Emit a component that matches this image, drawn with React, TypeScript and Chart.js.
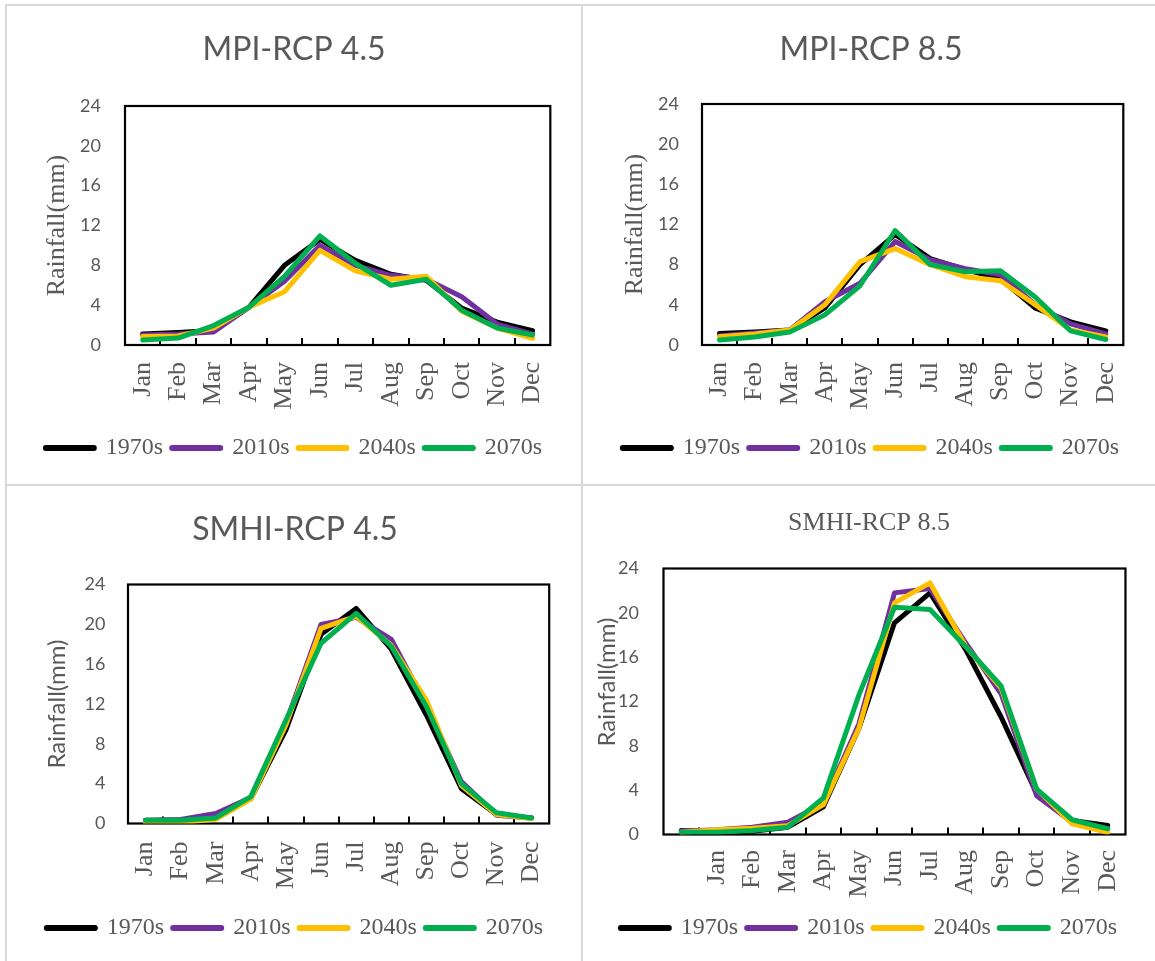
import React, { useEffect, useRef } from 'react';
import { Chart, registerables } from 'chart.js';

Chart.register(...registerables);

// ---------- data ----------
const MONTHS = ['Jan', 'Feb', 'Mar', 'Apr', 'May', 'Jun', 'Jul', 'Aug', 'Sep', 'Oct', 'Nov', 'Dec'];
// the SMHI-RCP 8.5 panel has an extra, unlabeled leading category
const MONTHS_WITH_BLANK = ['', 'Jan', 'Feb', 'Mar', 'Apr', 'May', 'Jun', 'Jul', 'Aug', 'Sep', 'Oct', 'Nov', 'Dec'];
const SERIES_LABELS = ['1970s', '2010s', '2040s', '2070s'];
const SERIES_COLORS = ['#000000', '#7030A0', '#FFC000', '#00B050'];
const Y_MIN = 0;
const Y_MAX = 24;
const Y_STEP = 4;
const Y_TITLE = 'Rainfall(mm)';

const MPI45_1970s = [1.1, 1.25, 1.45, 3.8, 8.0, 10.6, 8.5, 7.1, 6.5, 3.7, 2.3, 1.45];
const MPI45_2010s = [1.0, 1.1, 1.3, 3.8, 6.4, 10.0, 8.0, 7.0, 6.6, 4.85, 2.1, 1.1];
const MPI45_2040s = [0.85, 0.9, 1.7, 3.8, 5.35, 9.5, 7.45, 6.6, 6.9, 3.4, 1.7, 0.67];
const MPI45_2070s = [0.5, 0.7, 1.95, 3.8, 6.9, 10.95, 8.2, 6.0, 6.6, 3.5, 1.7, 1.0];

const MPI85_1970s = [1.15, 1.3, 1.5, 3.7, 8.0, 11.0, 8.6, 7.5, 6.6, 3.66, 2.3, 1.4];
const MPI85_2010s = [0.93, 1.2, 1.5, 4.3, 6.15, 10.3, 8.5, 7.6, 7.0, 4.0, 2.1, 1.1];
const MPI85_2040s = [0.83, 1.1, 1.5, 4.0, 8.3, 9.6, 8.0, 6.8, 6.4, 4.0, 1.5, 0.8];
const MPI85_2070s = [0.5, 0.8, 1.3, 3.0, 5.9, 11.4, 8.0, 7.3, 7.4, 4.75, 1.4, 0.55];

const SMHI45_1970s = [0.33, 0.33, 0.56, 2.5, 9.4, 19.0, 21.6, 17.5, 10.9, 3.5, 0.9, 0.56];
const SMHI45_2010s = [0.3, 0.4, 1.0, 2.6, 10.1, 20.0, 20.7, 18.5, 11.9, 4.2, 0.84, 0.56];
const SMHI45_2040s = [0.1, 0.1, 0.43, 2.45, 9.9, 19.6, 20.8, 17.9, 12.4, 3.8, 0.9, 0.5];
const SMHI45_2070s = [0.33, 0.33, 0.56, 2.7, 10.4, 18.1, 21.1, 17.8, 11.75, 4.0, 1.07, 0.56];

const SMHI85_1970s = [0.36, 0.2, 0.3, 0.66, 2.5, 9.6, 19.1, 21.8, 16.7, 10.6, 3.7, 1.27, 0.82];
const SMHI85_2010s = [0.3, 0.42, 0.66, 1.1, 2.8, 10.0, 21.8, 22.2, 17.3, 12.7, 3.5, 1.1, 0.52];
const SMHI85_2040s = [0.2, 0.42, 0.57, 0.8, 2.7, 9.6, 20.9, 22.7, 17.0, 13.2, 4.1, 0.96, 0.2];
const SMHI85_2070s = [0.21, 0.2, 0.36, 0.66, 3.3, 12.6, 20.5, 20.3, 16.97, 13.4, 4.1, 1.33, 0.52];

// ---------- styling ----------
const GRAY = '#595959';
const SANS = 'Lato';
const SERIF = 'Liberation Serif';

type Panel = {
  title: string;
  titleFont: any;
  titlePad: { top: number; bottom: number };
  labels: string[];
  series: number[][];
  left: number; top: number; width: number; height: number;
  padL: number; padR: number; padB: number;
  yWidth: number; yTickPad: number; yTitleFont: any; yTitlePad: number;
  yTitleCustom?: { x: number; dy: number };
  xHeight: number; xTickPad: number;
};

const PANELS: Panel[] = [
  {
    title: 'MPI-RCP 4.5', titleFont: { family: SANS, size: 32 }, titlePad: { top: 24.8, bottom: 36.8 },
    labels: MONTHS, series: [MPI45_1970s, MPI45_2010s, MPI45_2040s, MPI45_2070s],
    left: 6, top: 6, width: 576, height: 479, padL: 29, padR: 29, padB: 15,
    yWidth: 90, yTickPad: 24, yTitleFont: { family: SERIF, size: 26 }, yTitlePad: 6.4,
    xHeight: 82, xTickPad: 17,
  },
  {
    title: 'MPI-RCP 8.5', titleFont: { family: SANS, size: 32 }, titlePad: { top: 24.8, bottom: 34.8 },
    labels: MONTHS, series: [MPI85_1970s, MPI85_2010s, MPI85_2040s, MPI85_2070s],
    left: 583, top: 6, width: 572, height: 479, padL: 29, padR: 25, padB: 15,
    yWidth: 90, yTickPad: 23, yTitleFont: { family: SERIF, size: 26 }, yTitlePad: 7.4,
    xHeight: 82, xTickPad: 17,
  },
  {
    title: 'SMHI-RCP 4.5', titleFont: { family: SANS, size: 32 }, titlePad: { top: 24.8, bottom: 35.3 },
    labels: MONTHS, series: [SMHI45_1970s, SMHI45_2010s, SMHI45_2040s, SMHI45_2070s],
    left: 6, top: 486, width: 576, height: 475, padL: 29.5, padR: 27.5, padB: 11,
    yWidth: 92.5, yTickPad: 22.5, yTitleFont: { family: SANS, size: 24 }, yTitlePad: 7.1,
    xHeight: 83.5, xTickPad: 18,
  },
  {
    title: 'SMHI-RCP 8.5', titleFont: { family: SERIF, size: 26 }, titlePad: { top: 21.4, bottom: 29.9 },
    labels: MONTHS_WITH_BLANK, series: [SMHI85_1970s, SMHI85_2010s, SMHI85_2040s, SMHI85_2070s],
    left: 583, top: 486, width: 572, height: 475, padL: 15.5, padR: 15.5, padB: 11,
    yWidth: 65, yTickPad: 24.5, yTitleFont: { family: SANS, size: 24 }, yTitlePad: 0,
    yTitleCustom: { x: 24.5, dy: -19.5 },
    xHeight: 72.5, xTickPad: 15.5,
  },
];

// frame around plot area + inward tick marks between categories
const framePlugin = {
  id: 'excelFrame',
  beforeDatasetsDraw(chart: any) {
    const { ctx, chartArea: a, scales } = chart;
    const x = scales.x;
    ctx.save();
    ctx.strokeStyle = '#000000';
    ctx.lineWidth = 2;
    ctx.beginPath();
    const n = x.ticks.length;
    for (let i = 1; i < n; i++) {
      const px = Math.round((x.getPixelForTick(i - 1) + x.getPixelForTick(i)) / 2);
      ctx.moveTo(px, a.bottom);
      ctx.lineTo(px, a.bottom - 7);
    }
    ctx.stroke();
    ctx.lineWidth = 2.2;
    ctx.strokeRect(a.left, a.top, a.right - a.left, a.bottom - a.top);
    ctx.restore();
  },
};

// y-axis title placed off-centre (used where the original title is shifted)
const shiftedYTitlePlugin = {
  id: 'shiftedYTitle',
  afterDraw(chart: any, _args: any, opts: any) {
    if (!opts || !opts.text) return;
    const { ctx, chartArea: a } = chart;
    ctx.save();
    ctx.translate(opts.x, (a.top + a.bottom) / 2 + opts.dy);
    ctx.rotate(-Math.PI / 2);
    ctx.font = `${opts.size}px ${opts.family}`;
    ctx.fillStyle = GRAY;
    ctx.textAlign = 'center';
    ctx.textBaseline = 'middle';
    ctx.fillText(opts.text, 0, 0);
    ctx.restore();
  },
};

function PanelChart({ p }: { p: Panel }) {
  const ref = useRef<HTMLCanvasElement>(null);
  useEffect(() => {
    if (!ref.current) return;
    const custom = p.yTitleCustom;
    const chart = new Chart(ref.current, {
      type: 'line',
      data: {
        labels: p.labels,
        datasets: p.series.map((s, i) => ({
          label: SERIES_LABELS[i],
          data: s,
          borderColor: SERIES_COLORS[i],
          backgroundColor: SERIES_COLORS[i],
          borderWidth: 5,
          pointRadius: 0,
          tension: 0,
          borderCapStyle: 'round',
          borderJoinStyle: 'round',
          order: p.series.length - i,
        })),
      },
      options: {
        animation: false,
        responsive: false,
        devicePixelRatio: 1,
        layout: { padding: { left: p.padL, right: p.padR, top: 0, bottom: p.padB } },
        plugins: {
          title: {
            display: true, text: p.title, color: GRAY,
            font: { ...p.titleFont, weight: 'normal', lineHeight: 1.2 },
            padding: p.titlePad,
          },
          legend: {
            position: 'bottom',
            reverse: true,
            labels: {
              color: GRAY,
              font: { family: SERIF, size: 24, weight: 'normal' },
              boxWidth: 48,
              boxHeight: 0.1,
              padding: 9,
              generateLabels: (chart: any) => {
                const items = Chart.defaults.plugins.legend.labels.generateLabels(chart);
                return items.map((it: any) => ({ ...it, lineWidth: 6, lineJoin: 'round', lineCap: 'round' }));
              },
            },
          },
          tooltip: { enabled: false },
          shiftedYTitle: custom
            ? { text: Y_TITLE, x: custom.x, dy: custom.dy, size: p.yTitleFont.size, family: p.yTitleFont.family }
            : {},
        },
        scales: {
          x: {
            type: 'category',
            offset: true,
            grid: { display: false, drawTicks: false },
            border: { display: false },
            ticks: {
              autoSkip: false, maxRotation: 90, minRotation: 90,
              padding: p.xTickPad, color: GRAY,
              font: { family: SERIF, size: 26 },
            },
            afterFit: (s: any) => { s.height = p.xHeight; },
          },
          y: {
            min: Y_MIN, max: Y_MAX,
            grid: { display: false, drawTicks: false },
            border: { display: false },
            ticks: { stepSize: Y_STEP, padding: p.yTickPad, color: GRAY, font: { family: SANS, size: 18 } },
            title: {
              display: !custom, text: Y_TITLE, color: GRAY,
              font: { ...p.yTitleFont, lineHeight: 1.2 },
              padding: { top: p.yTitlePad, bottom: 0 },
            },
            afterFit: (s: any) => { s.width = p.yWidth; },
          },
        },
      } as any,
      plugins: [framePlugin, shiftedYTitlePlugin],
    });
    return () => chart.destroy();
  }, [p]);
  return (
    <canvas
      ref={ref}
      width={p.width}
      height={p.height}
      style={{ position: 'absolute', left: p.left, top: p.top, width: p.width, height: p.height }}
    />
  );
}

const LINE = '#d9d9d9';

export default function App() {
  return (
    <div style={{ position: 'absolute', left: 0, top: 0, width: 1155, height: 961, background: '#ffffff', overflow: 'hidden' }}>
      <div style={{ position: 'absolute', left: 5, top: 4, width: 1150, height: 2, background: LINE }} />
      <div style={{ position: 'absolute', left: 5, top: 484, width: 1150, height: 2, background: LINE }} />
      <div style={{ position: 'absolute', left: 5, top: 4, width: 2, height: 957, background: LINE }} />
      <div style={{ position: 'absolute', left: 581, top: 4, width: 2, height: 957, background: LINE }} />
      {PANELS.map((p) => (
        <PanelChart key={p.title} p={p} />
      ))}
    </div>
  );
}
